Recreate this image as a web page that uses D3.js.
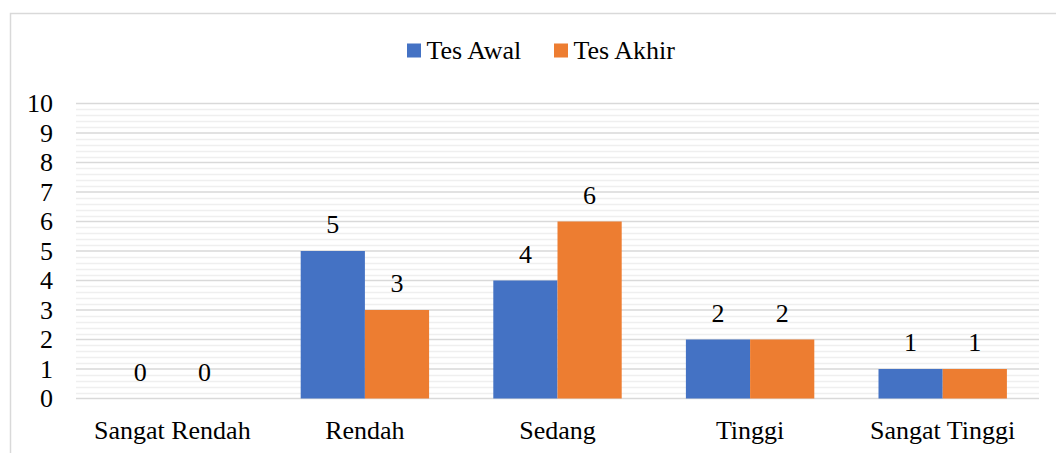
<!DOCTYPE html>
<html>
<head>
<meta charset="utf-8">
<script src="https://cdn.jsdelivr.net/npm/d3@7"></script>
<style>
  html,body{margin:0;padding:0;background:#fff;}
</style>
</head>
<body>
<div id="chart"></div>
<script>
const categories = ['Sangat Rendah','Rendah','Sedang','Tinggi','Sangat Tinggi'];
const seriesNames = ['Tes Awal','Tes Akhir'];
const tesAwal = [0,5,4,2,1];
const tesAkhir = [0,3,6,2,1];
const yTicks = [0,1,2,3,4,5,6,7,8,9,10];
const colors = ['#4472C4','#ED7D31'];
const FONT = 'Liberation Serif';
const FS = 26;

const W = 1056, H = 453;
const svg = d3.select('#chart').append('svg').attr('width',W).attr('height',H);

// outer chart frame
svg.append('rect').attr('x',10.5).attr('y',13.5).attr('width',1070).attr('height',470)
  .attr('fill','none').attr('stroke','#d9d9d9').attr('stroke-width',1.5);

const plotL = 76, plotR = 1039, plotT = 103.5, plotB = 398.5;

const x0 = d3.scaleBand().domain(categories).range([plotL,plotR]).padding(0);
const bw = x0.bandwidth();
const x1 = d3.scaleBand().domain(seriesNames).range([bw/6, bw*5/6]).padding(0);
const y = d3.scaleLinear().domain([0,10]).range([plotB,plotT]);

// minor gridlines
const minor = d3.range(0,10.001,0.2).filter(v=>Math.abs(v-Math.round(v))>1e-6);
svg.append('g').selectAll('line').data(minor).enter().append('line')
  .attr('x1',plotL).attr('x2',plotR)
  .attr('y1',d=>Math.round(y(d))+0.5).attr('y2',d=>Math.round(y(d))+0.5)
  .attr('stroke','#efefef').attr('stroke-width',1.5);

// major gridlines
svg.append('g').selectAll('line').data(yTicks).enter().append('line')
  .attr('x1',plotL).attr('x2',plotR)
  .attr('y1',d=>y(d)).attr('y2',d=>y(d))
  .attr('stroke','#d9d9d9').attr('stroke-width',1.5);

// y tick labels
svg.append('g').selectAll('text').data(yTicks).enter().append('text')
  .attr('x',53).attr('y',d=>y(d)).attr('dy','0.34em')
  .attr('font-family',FONT).attr('font-size',FS)
  .attr('text-anchor','end').text(d=>d);

// bars
const rows = categories.map((c,i)=>({cat:c, vals:[tesAwal[i],tesAkhir[i]]}));
const grp = svg.append('g').selectAll('g').data(rows).enter().append('g')
  .attr('transform',d=>`translate(${x0(d.cat)},0)`);

grp.selectAll('rect').data(d=>d.vals.map((v,k)=>({s:seriesNames[k],v,k}))).enter().append('rect')
  .attr('x',d=>x1(d.s)).attr('width',x1.bandwidth())
  .attr('y',d=>y(d.v)).attr('height',d=>plotB-y(d.v))
  .attr('fill',d=>colors[d.k]);

grp.selectAll('text').data(d=>d.vals.map((v,k)=>({s:seriesNames[k],v,k}))).enter().append('text')
  .attr('x',d=>x1(d.s)+x1.bandwidth()/2).attr('y',d=>y(d.v)-18)
  .attr('font-family',FONT).attr('font-size',FS)
  .attr('text-anchor','middle').text(d=>d.v);

// category labels
svg.append('g').selectAll('text').data(categories).enter().append('text')
  .attr('x',d=>x0(d)+bw/2).attr('y',439)
  .attr('font-family',FONT).attr('font-size',FS)
  .attr('text-anchor','middle').text(d=>d);

// legend
const legendX = [407, 554];
const leg = svg.append('g').selectAll('g').data(seriesNames).enter().append('g')
  .attr('transform',(d,i)=>`translate(${legendX[i]},0)`);
leg.append('rect').attr('x',0).attr('y',43.5).attr('width',14).attr('height',14)
  .attr('fill',(d,i)=>colors[i]);
leg.append('text').attr('x',19.5).attr('y',59)
  .attr('font-family',FONT).attr('font-size',FS).text(d=>d);
</script>
</body>
</html>
